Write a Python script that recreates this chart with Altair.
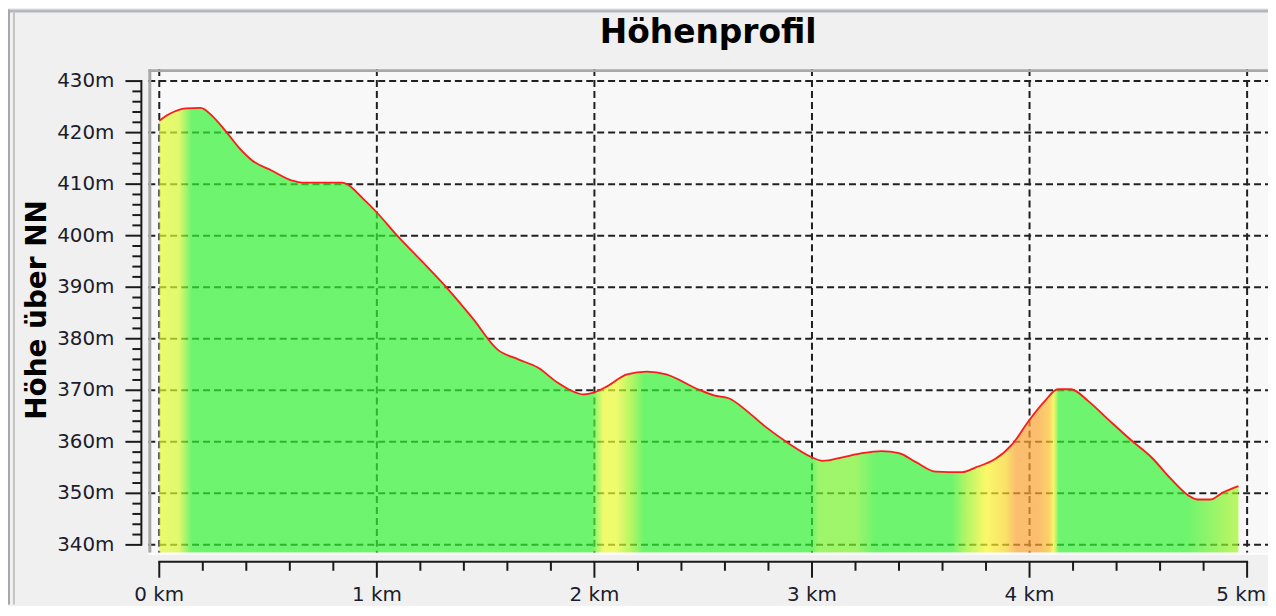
import altair as alt
import pandas as pd

# ---------------- data ----------------
profile_km = [0.0, 0.046, 0.122, 0.19, 0.244, 0.305, 0.366, 0.427, 0.518, 0.61,
              0.656, 0.838, 0.946, 1.0, 1.1, 1.21, 1.33, 1.44, 1.555, 1.65,
              1.74, 1.83, 1.89, 1.95, 2.0, 2.06, 2.15, 2.24, 2.33, 2.47,
              2.55, 2.62, 2.70, 2.79, 2.90, 2.99, 3.05, 3.14, 3.23, 3.32,
              3.40, 3.48, 3.57, 3.69, 3.75, 3.84, 3.92, 3.995, 4.07, 4.13,
              4.19, 4.27, 4.36, 4.47, 4.56, 4.65, 4.73, 4.77, 4.83, 4.89,
              4.96]
profile_m = [422.3, 423.6, 424.7, 424.8, 423.2, 420.3, 417.1, 414.6, 412.6, 410.7,
             410.3, 410.3, 406.8, 404.5, 399.7, 394.9, 389.5, 384.0, 377.9, 376.0,
             374.4, 371.5, 370.0, 369.2, 369.6, 370.8, 373.1, 373.6, 373.1, 370.3,
             369.0, 368.4, 366.0, 362.8, 359.5, 357.2, 356.3, 357.0, 357.8, 358.2,
             357.8, 356.0, 354.2, 354.1, 355.0, 356.6, 359.5, 364.0, 367.9, 370.2,
             370.2, 367.9, 364.4, 360.2, 357.0, 352.8, 349.6, 348.8, 348.8, 350.2,
             351.4]

# colour bands of the fill (gradient positions in km and seen colours)
grad_km = [0.0, 0.09, 0.15, 1.99, 2.04, 2.10, 2.17, 2.23, 3.00, 3.03, 3.20, 3.29,
           3.64, 3.71, 3.80, 3.89, 3.94, 4.04, 4.09, 4.11, 4.135, 4.72, 4.96]
grad_col = ["#ebfa6e", "#e1f86e", "#6ef46e", "#6ef46e", "#f0fa6e", "#f0fa6e",
            "#b4f664", "#6ef46e", "#6ef46e", "#a0f56a", "#a0f56a", "#6ef46e",
            "#6ef46e", "#b4f664", "#faf869", "#fae169", "#fabe6e", "#fabe6e",
            "#fad269", "#faf569", "#6ef46e", "#6ef46e", "#bef664"]

x_major = [0, 1, 2, 3, 4, 5]
x_labels = ["0 km", "1 km", "2 km", "3 km", "4 km", "5 km"]
x_minor = [round(i * 0.2, 1) for i in range(26) if i % 5]
y_major = [340, 350, 360, 370, 380, 390, 400, 410, 420, 430]
y_labels = ["340m", "350m", "360m", "370m", "380m", "390m", "400m", "410m",
            "420m", "430m"]
y_minor = [v for v in range(340, 431, 2) if v % 10]

TITLE = "Höhenprofil"
Y_TITLE = "Höhe über NN"

X_DOM = [-0.0503, 5.096]
Y_DOM = [338.455, 432.32]

# ---------------- styling helpers ----------------
FILL_ALPHA = 0.7
BG = 248


def under_alpha(hexcol, a=FILL_ALPHA, bg=BG):
    r, g, b = (int(hexcol[i:i + 2], 16) for i in (1, 3, 5))
    f = lambda c: max(0, min(255, round((c - (1 - a) * bg) / a)))
    return "#%02x%02x%02x" % (f(r), f(g), f(b))


k0, k1 = profile_km[0], profile_km[-1]
stops = [alt.GradientStop(color=under_alpha(c), offset=(k - k0) / (k1 - k0))
         for k, c in zip(grad_km, grad_col)]

xs = alt.Scale(domain=X_DOM, nice=False, zero=False)
ys = alt.Scale(domain=Y_DOM, nice=False, zero=False)

PW, PH = 1125, 486
FONT = "DejaVu Sans"
LABEL_COL = "#1c1c2c"
TICK_COL = "#1a1a1a"
GRID_COL = "#202020"
DASH = [7, 4]

df = pd.DataFrame({"km": profile_km, "m": profile_m})
xt = pd.DataFrame({"v": x_major, "lab": x_labels})
yt = pd.DataFrame({"v": y_major, "lab": y_labels})


def X(field):
    return alt.X(field, scale=xs, axis=None)


def Y(field):
    return alt.Y(field, scale=ys, axis=None)


# grid (below the translucent area)
grid_v = alt.Chart(xt).mark_rule(color=GRID_COL, strokeWidth=2, strokeDash=DASH).encode(
    x=X("v:Q"), y=alt.value(0), y2=alt.value(PH))
grid_h = alt.Chart(yt).mark_rule(color=GRID_COL, strokeWidth=2, strokeDash=DASH).encode(
    y=Y("v:Q"), x=alt.value(0), x2=alt.value(PW))

area = alt.Chart(df).mark_area(
    color=alt.Gradient(gradient="linear", stops=stops, x1=0, x2=1, y1=0, y2=0),
    fillOpacity=FILL_ALPHA, interpolate="monotone", clip=True
).encode(x=X("km:Q"), y=Y("m:Q"), y2=alt.datum(Y_DOM[0]))

line = alt.Chart(df).mark_line(
    color="#ff1a1a", strokeWidth=1.8, interpolate="monotone", clip=True
).encode(x=X("km:Q"), y=Y("m:Q"))

# tick marks (major + minor) and axis lines
ymaj = alt.Chart(yt).mark_rule(color=TICK_COL, strokeWidth=2).encode(
    y=Y("v:Q"), x=alt.value(-23), x2=alt.value(-7))
ymin = alt.Chart(pd.DataFrame({"v": y_minor})).mark_rule(
    color=TICK_COL, strokeWidth=2).encode(
    y=Y("v:Q"), x=alt.value(-16), x2=alt.value(-7))
ydom = alt.Chart(pd.DataFrame({"lo": [y_major[0]], "hi": [y_major[-1]]})).mark_rule(
    color=TICK_COL, strokeWidth=2, strokeCap="square").encode(
    y=Y("lo:Q"), y2="hi:Q", x=alt.value(-7))

xmaj = alt.Chart(xt).mark_rule(color=TICK_COL, strokeWidth=2).encode(
    x=X("v:Q"), y=alt.value(PH + 9), y2=alt.value(PH + 25))
xmin = alt.Chart(pd.DataFrame({"v": x_minor})).mark_rule(
    color=TICK_COL, strokeWidth=2).encode(
    x=X("v:Q"), y=alt.value(PH + 9), y2=alt.value(PH + 18))
xdom = alt.Chart(pd.DataFrame({"lo": [x_major[0]], "hi": [x_major[-1]]})).mark_rule(
    color=TICK_COL, strokeWidth=2, strokeCap="square").encode(
    x=X("lo:Q"), x2="hi:Q", y=alt.value(PH + 9))

# tick labels
ylab = alt.Chart(yt).mark_text(align="right", baseline="middle", font=FONT,
                               fontSize=20, color=LABEL_COL).encode(
    y=Y("v:Q"), x=alt.value(-34), text="lab:N")
xlab = alt.Chart(xt).transform_filter(f"datum.v < {x_major[-1]}").mark_text(
    align="center", baseline="alphabetic", font=FONT, fontSize=20,
    color=LABEL_COL).encode(
    x=X("v:Q"), y=alt.value(PH + 48.5), text="lab:N")
# the last label sits at the window edge: nudge it left so it stays whole
xlab_last = alt.Chart(xt).transform_filter(f"datum.v == {x_major[-1]}").mark_text(
    align="center", baseline="alphabetic", font=FONT, fontSize=20,
    color=LABEL_COL, dx=-6).encode(
    x=X("v:Q"), y=alt.value(PH + 48.5), text="lab:N")

# titles
one = pd.DataFrame({"t": [TITLE], "yt": [Y_TITLE]})
title = alt.Chart(one).mark_text(align="center", baseline="alphabetic", font=FONT,
                                 fontSize=33, fontWeight="bold", color="#000000").encode(
    x=alt.value(PW / 2), y=alt.value(-26), text="t:N")
ytitle = alt.Chart(one).mark_text(align="center", baseline="alphabetic", font=FONT,
                                  fontSize=28, fontWeight="bold", color="#000000",
                                  angle=270).encode(
    x=alt.value(-103), y=alt.value(PH / 2 - 1), text="yt:N")

# plot-box frame (inset look) and outer panel frame
frame_top = alt.Chart(one).mark_rule(color="#a8a8a8", strokeWidth=3).encode(
    x=alt.value(0), x2=alt.value(PW), y=alt.value(1.5))
frame_left = alt.Chart(one).mark_rule(color="#a8a8a8", strokeWidth=3).encode(
    x=alt.value(1.5), y=alt.value(0), y2=alt.value(PH))
frame_bottom = alt.Chart(one).mark_rule(color="#ffffff", strokeWidth=2).encode(
    x=alt.value(0), x2=alt.value(PW), y=alt.value(PH + 1))
panel_top = alt.Chart(one).mark_rule(color="#b4b8bc", strokeWidth=3).encode(
    x=alt.value(-141), x2=alt.value(PW), y=alt.value(-58.5))
panel_left1 = alt.Chart(one).mark_rule(color="#a4a8ac", strokeWidth=2).encode(
    x=alt.value(-140), y=alt.value(-60), y2=alt.value(PH + 52))
panel_left2 = alt.Chart(one).mark_rule(color="#c4c4c4", strokeWidth=2).encode(
    x=alt.value(-135), y=alt.value(-58), y2=alt.value(PH + 52))

chart = alt.layer(
    grid_v, grid_h, area, line, ymaj, ymin, ydom, xmaj, xmin, xdom,
    ylab, xlab, xlab_last, title, ytitle,
    frame_top, frame_left, frame_bottom, panel_top, panel_left1, panel_left2
).properties(
    width=PW, height=PH,
    background="#f0f0f0",
    padding={"left": 141, "top": 60, "right": 0, "bottom": 52},
    autosize=alt.AutoSizeParams(type="none"),
).configure_view(stroke=None, fill="#f8f8f8")

chart.save("out.html", embed_options={"renderer": "svg", "actions": False})
